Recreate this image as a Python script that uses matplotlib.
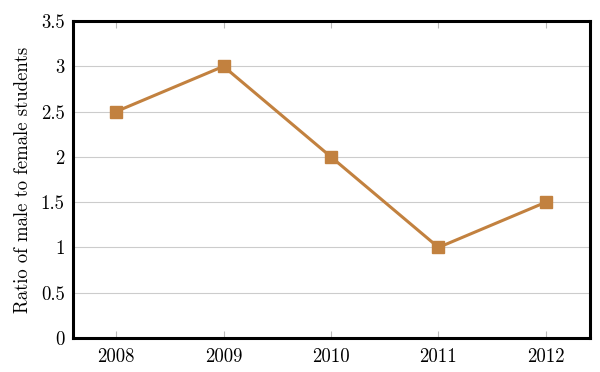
import matplotlib
matplotlib.use('Agg')
import matplotlib.pyplot as plt

plt.rcParams['font.family'] = ['cmr10', 'DejaVu Serif']
plt.rcParams['axes.formatter.use_mathtext'] = True

years = [2008, 2009, 2010, 2011, 2012]
ratio = [2.5, 3, 2, 1, 1.5]
yticks = [0, 0.5, 1, 1.5, 2, 2.5, 3, 3.5]
ylabels = ['0', '0.5', '1', '1.5', '2', '2.5', '3', '3.5']

color = '#c2813f'

fig = plt.figure(figsize=(6, 3.72), dpi=100)
ax = fig.add_axes([0.1217, 0.0914, 0.8617, 0.852])

ax.plot(years, ratio, color=color, lw=2.2, marker='s', ms=8, zorder=3)

ax.set_xlim(2007.6, 2012.41)
ax.set_ylim(0, 3.5)
ax.set_xticks(years)
ax.set_xticklabels([str(y) for y in years])
ax.set_yticks(yticks)
ax.set_yticklabels(ylabels)
ax.grid(axis='y', color='#cccccc', lw=0.8)
ax.set_axisbelow(True)
ax.tick_params(axis='x', direction='in', length=5, color='#bbbbbb', top=True,
               labelsize=13.5, pad=7)
ax.tick_params(axis='y', length=0, labelsize=13.5, pad=6)
for s in ax.spines.values():
    s.set_linewidth(2.2)
    s.set_color('black')
ax.set_ylabel('Ratio of male to female students', fontsize=13.5, labelpad=6)

fig.savefig('out.png', dpi=100)
